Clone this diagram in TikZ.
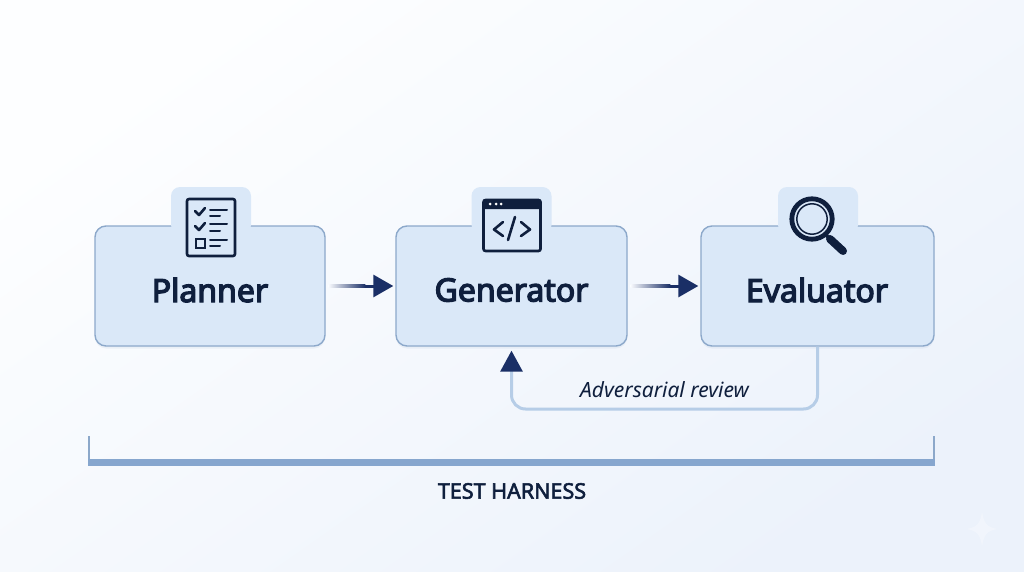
\documentclass[tikz,border=0pt]{standalone}
\usepackage{fontspec}
\setmainfont{Noto Sans}
\newfontfamily\boxfont[FakeBold=4]{Noto Sans}
\newfontfamily\capsfont[FakeBold=2.5]{Noto Sans}
\usetikzlibrary{arrows.meta,shadows}
\definecolor{bgtop}{HTML}{FDFEFF}
\definecolor{bgbottom}{HTML}{ECF2FB}
\definecolor{bgmid}{HTML}{F7F9FD}
\definecolor{boxfill}{HTML}{DAE8F8}
\definecolor{boxline}{HTML}{8CA8CA}
\definecolor{navy}{HTML}{1A2F66}
\definecolor{ink}{HTML}{0F1F3D}
\definecolor{loopline}{HTML}{B6CDE7}
\definecolor{barfill}{HTML}{86A6CE}
\tikzset{
	stagebox/.style={draw=boxline,line width=1.4pt,fill=boxfill,rounded corners=11pt,minimum width=230pt,minimum height=120pt,inner sep=0pt,drop shadow={shadow xshift=0pt,shadow yshift=-2.5pt,opacity=0.12,fill=boxline}},
	stagetab/.style={fill=boxfill,rounded corners=9pt,minimum width=80pt,minimum height=47pt,inner sep=0pt},
	stagelabel/.style={text=ink,inner sep=0pt,font=\boxfont\fontsize{32}{38}\selectfont},
	flow/.style={navy,line width=3pt,shorten <=3pt,shorten >=2pt,-{Triangle[length=20pt,width=22pt]}},
	flowfade/.style={left color=bgmid,right color=navy},
	icon/.style={ink,line width=2.6pt,line cap=round,line join=round},
	iconthin/.style={ink,line width=2pt,line cap=round}
}
\begin{document}
\begin{tikzpicture}[x=1pt,y=-1pt]
	\useasboundingbox (0,0) rectangle (1024,572);
	\shade[top color=bgtop,bottom color=bgbottom,shading angle=35] (0,0) rectangle (1024,572);
	% boxes
	\node[stagebox] (planner) at (210,286) {};
	\node[stagebox,minimum width=231pt] (generator) at (511.5,286) {};
	\node[stagebox,minimum width=233pt] (evaluator) at (817.5,286) {};
	\node[stagetab] (plannertab) at (211,210.5) {};
	\node[stagetab] (generatortab) at (511.5,210.5) {};
	\node[stagetab] (evaluatortab) at (818,210.5) {};
	\node[stagelabel] (plannerlabel) at (210,290) {Planner};
	\node[stagelabel] (generatorlabel) at (511.5,290) {Generator};
	\node[stagelabel] (evaluatorlabel) at (817,290) {Evaluator};
	% checklist icon
	\draw[icon,rounded corners=2pt] (187,199) rectangle (235,256);
	\draw[icon] (195,211) -- (199,215) -- (205,208);
	\draw[icon] (195,226) -- (199,230) -- (205,223);
	\draw[iconthin,line width=2pt] (195.5,238.5) rectangle (204.5,247.5);
	\foreach \ya/\yb in {210/216,224/231,240/246} {
		\draw[iconthin] (210,\ya) -- (227,\ya);
		\draw[iconthin] (210,\yb) -- (220,\yb);
	}
	% window icon
	\fill[ink,rounded corners=2pt] (483,199) rectangle (541,209);
	\draw[icon,rounded corners=2pt] (483.5,200) rectangle (540.5,251);
	\foreach \x in {490,496,501}
		\fill[white] (\x,204) circle (1.5pt);
	\draw[icon] (503,222) -- (494,229.5) -- (503,236);
	\draw[icon] (515,217) -- (508,240);
	\draw[icon] (521,222) -- (530,229.5) -- (521,236);
	% magnifier icon
	\draw[ink,line width=4.8pt] (812,219) circle (20.2pt);
	\draw[ink,line width=1.5pt] (812,219) circle (15.2pt);
	\draw[ink,line width=3.5pt] (825,234) -- (831,240);
	\draw[ink,line width=8pt,line cap=round] (830,239) -- (843,251);
	% arrows
	\draw[flow] (planner.east) -- (generator.west);
	\shade[flowfade] ([xshift=3pt,yshift=-1.5pt]planner.east) rectangle ([xshift=-30pt,yshift=1.5pt]generator.west);
	\draw[flow] (generator.east) -- (evaluator.west);
	\shade[flowfade] ([xshift=3pt,yshift=-1.5pt]generator.east) rectangle ([xshift=-30pt,yshift=1.5pt]evaluator.west);
	% feedback
	\coordinate (loopright) at (817.5,409);
	\coordinate (loopleft) at (511.5,409);
	\draw[loopline,line width=3pt,rounded corners=14pt,shorten >=4pt,-{Triangle[length=21pt,width=22pt,color=navy,fill=navy]}] (evaluator.south) -- (loopright) -- (loopleft) -- (generator.south);
	\node[text=ink,inner sep=0pt,font=\itshape\fontsize{21}{25}\selectfont] (looplabel) at (664.5,390) {Adversarial review};
	% harness
	\coordinate (harnessleft) at (88,462.5);
	\coordinate (harnessright) at (935,462.5);
	\coordinate (harnesslefttop) at (89,436);
	\coordinate (harnessrighttop) at (934,436);
	\draw[boxline,line width=2.4pt] (harnesslefttop) -- ([xshift=1pt,yshift=-3.5pt]harnessleft);
	\draw[boxline,line width=2.4pt] (harnessrighttop) -- ([xshift=-1pt,yshift=-3.5pt]harnessright);
	\draw[barfill,line width=7pt] (harnessleft) -- (harnessright);
	\node[text=ink,inner sep=0pt,font=\capsfont\fontsize{21.5}{26}\selectfont] (harnesslabel) at (512,491) {TEST HARNESS};
	% sparkle
	\fill[white,opacity=0.3] (982,512) .. controls (984,524) and (987,527) .. (997,529) .. controls (987,531) and (984,534) .. (982,546) .. controls (980,534) and (977,531) .. (967,529) .. controls (977,527) and (980,524) .. (982,512);
\end{tikzpicture}
\end{document}
